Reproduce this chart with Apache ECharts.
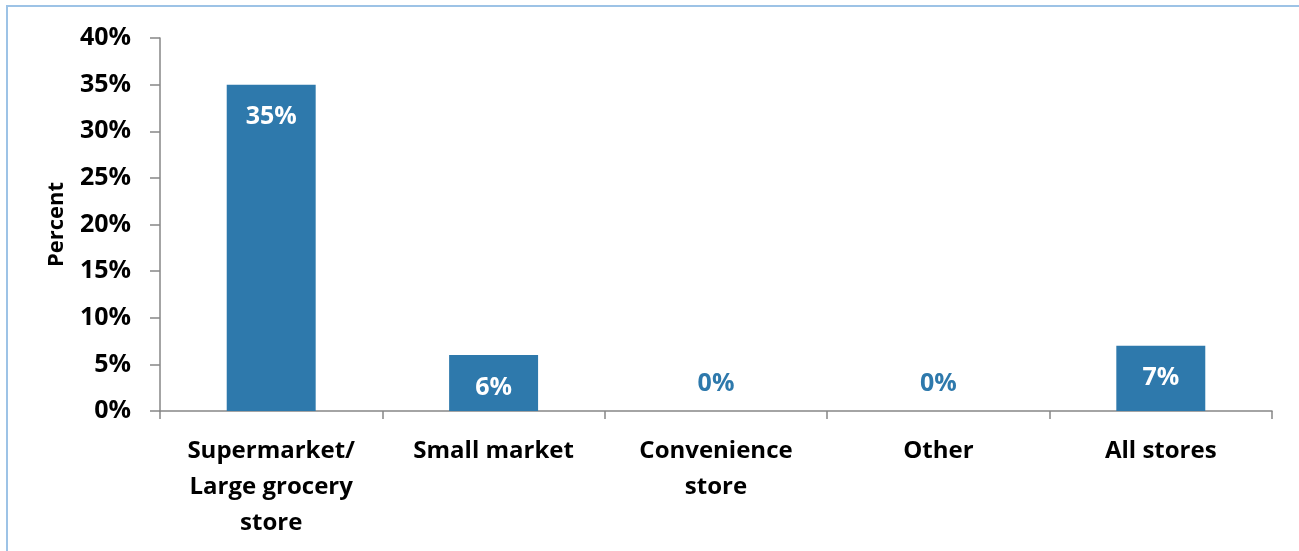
<!DOCTYPE html>
<html>
<head>
<meta charset="utf-8">
<script src="https://cdn.jsdelivr.net/npm/echarts@6/dist/echarts.min.js"></script>
<style>
  html, body { margin: 0; padding: 0; background: #fff; }
  #chart { width: 1299px; height: 551px; }
</style>
</head>
<body>
<div id="chart"></div>
<script>
// Share of stores, by store type
const categories = ['Supermarket/\nLarge grocery\nstore', 'Small market', 'Convenience\nstore', 'Other', 'All stores'];
const values = [0.35, 0.06, 0, 0, 0.07];
const yTicks = { min: 0, max: 0.40, interval: 0.05 };

const barColor = '#2E79AC';
const font = '"Open Sans", Lato, sans-serif';

const chart = echarts.init(document.getElementById('chart'));

const seriesData = values.map(v => ({
  value: v,
  label: v > 0
    ? { position: 'insideTop', distance: 20, color: '#fff' }
    : { position: 'top', distance: 15, color: barColor }
}));

chart.setOption({
  animation: false,
  graphic: [{
    type: 'rect',
    shape: { x: 7, y: 6, width: 1400, height: 700 },
    style: { fill: 'none', stroke: '#9DC3E6', lineWidth: 2 },
    silent: true
  }],
  grid: { left: 160, right: 27, top: 38, bottom: 140, containLabel: false },
  xAxis: {
    type: 'category',
    data: categories,
    axisLine: { lineStyle: { color: '#868686', width: 1.5 } },
    axisTick: { show: true, length: 8, interval: 0, alignWithLabel: false, lineStyle: { color: '#868686', width: 1.5 } },
    axisLabel: {
      interval: 0, margin: 22, color: '#000', fontFamily: font, fontWeight: 'bold',
      fontSize: 24, lineHeight: 36
    }
  },
  yAxis: {
    type: 'value',
    min: yTicks.min, max: yTicks.max, interval: yTicks.interval,
    name: 'Percent',
    nameLocation: 'middle',
    nameGap: 92,
    nameRotate: 90,
    nameTextStyle: { color: '#000', fontFamily: font, fontWeight: 'bold', fontSize: 22 },
    axisLine: { show: true, lineStyle: { color: '#868686', width: 1.5 } },
    axisTick: { show: true, length: 10, lineStyle: { color: '#868686', width: 1.5 } },
    splitLine: { show: false },
    axisLabel: {
      margin: 29, color: '#000', fontFamily: font, fontWeight: 'bold', fontSize: 25,
      formatter: v => Math.round(v * 100) + '%'
    }
  },
  series: [{
    type: 'bar',
    barWidth: '40%',
    data: seriesData,
    itemStyle: { color: barColor },
    label: {
      show: true, fontFamily: font, fontWeight: 'bold', fontSize: 25,
      formatter: p => Math.round(p.value * 100) + '%'
    }
  }]
});
</script>
</body>
</html>
